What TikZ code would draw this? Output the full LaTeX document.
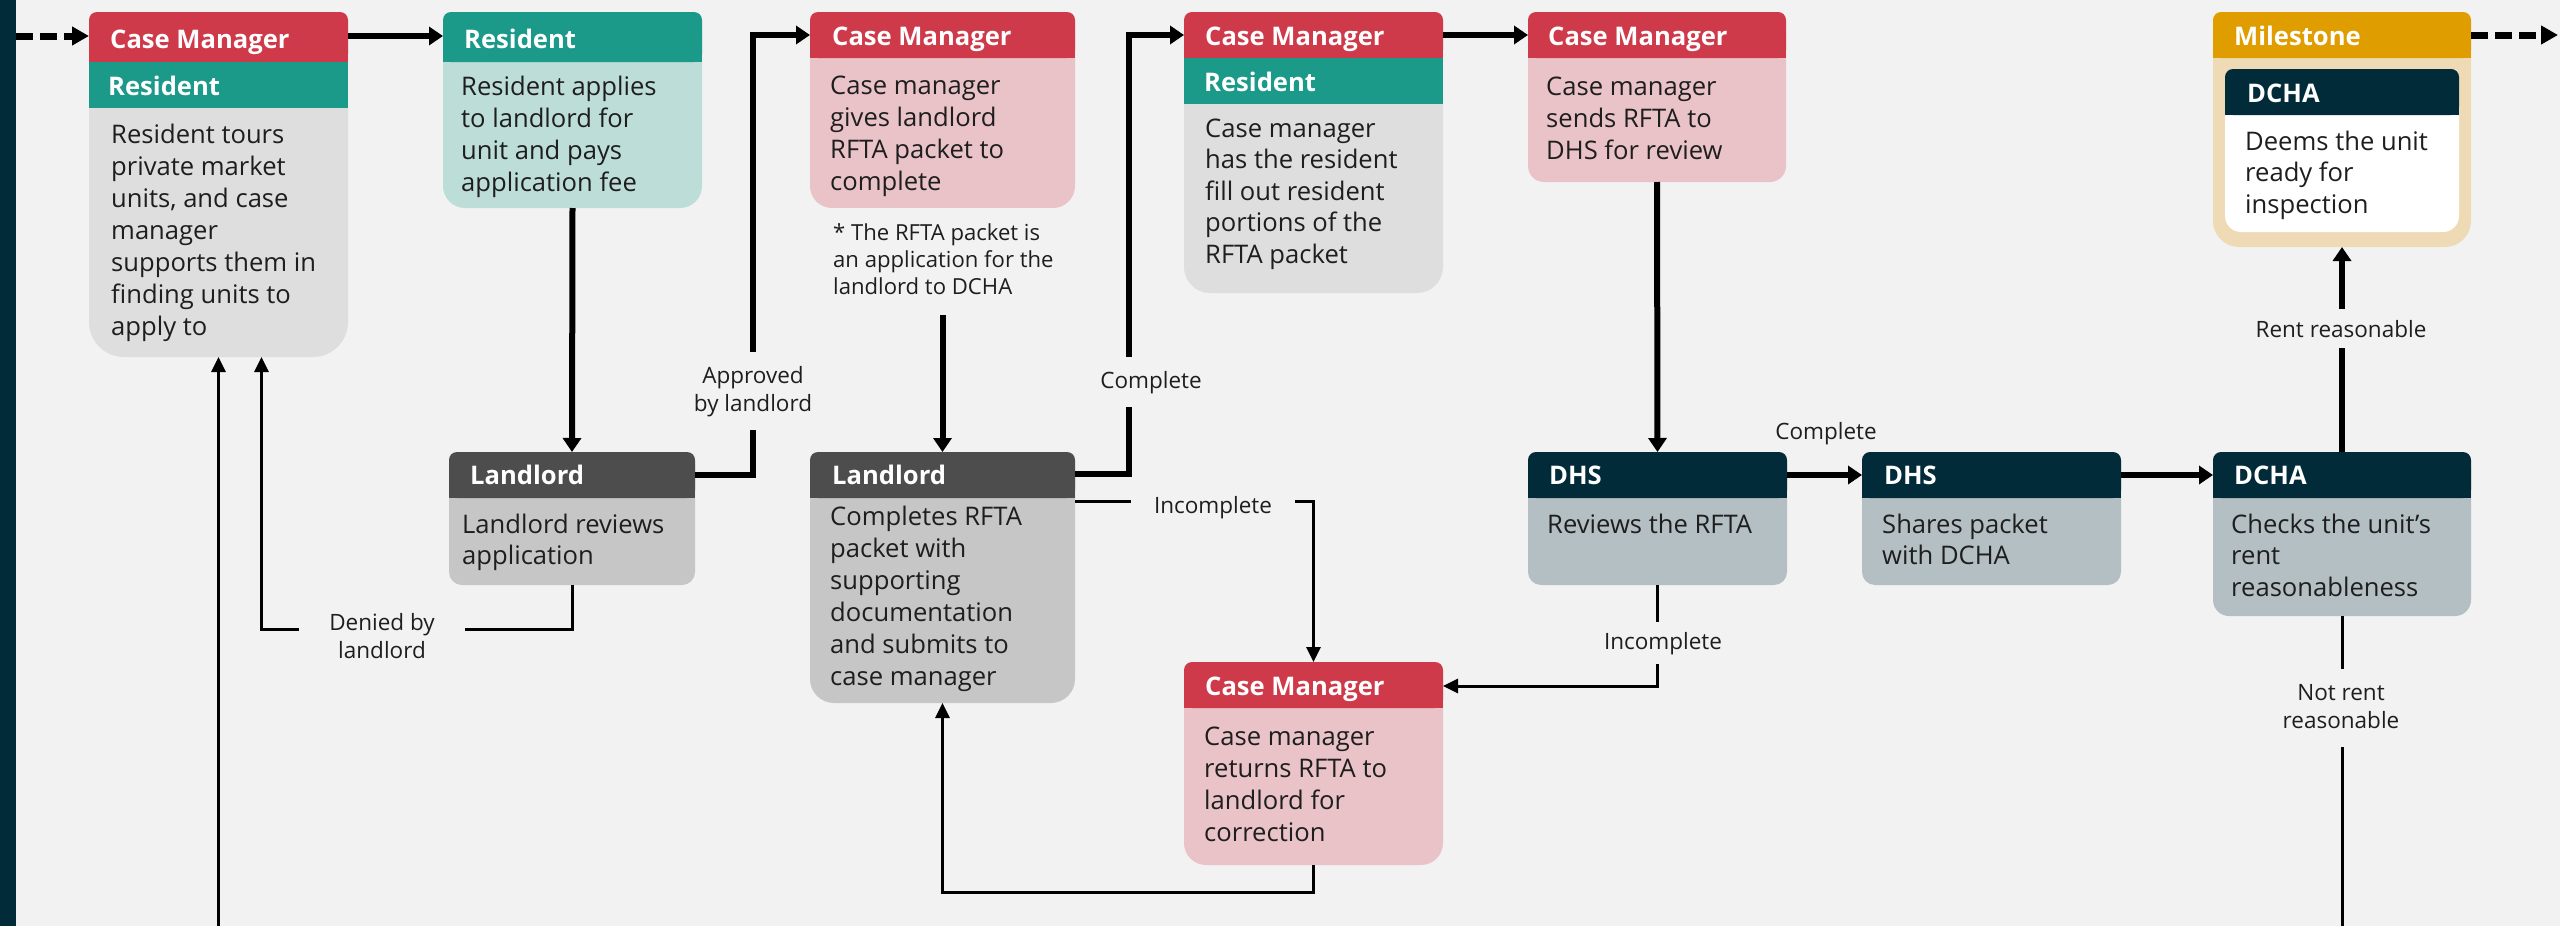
\documentclass[tikz,border=0pt]{standalone}
\usepackage{fontspec}
\setmainfont{Open Sans}
\usetikzlibrary{arrows.meta}
\definecolor{bg}{HTML}{F2F2F2}
\definecolor{navy}{HTML}{022B3A}
\definecolor{cmred}{HTML}{CF3A4B}
\definecolor{cmpink}{HTML}{E9C3C8}
\definecolor{rteal}{HTML}{1B9A8A}
\definecolor{rtealL}{HTML}{BDDDD8}
\definecolor{greyB}{HTML}{DEDEDE}
\definecolor{llord}{HTML}{4D4D4D}
\definecolor{llordL}{HTML}{C6C6C6}
\definecolor{dhsL}{HTML}{B4BFC3}
\definecolor{gold}{HTML}{E09D00}
\definecolor{tan}{HTML}{EEDBB5}
\definecolor{ink}{HTML}{1E1E1E}
\newcommand{\txtL}[1]{\begin{tabular}[t]{@{}l@{}}#1\end{tabular}}
\newcommand{\txtC}[1]{\begin{tabular}[t]{@{}c@{}}#1\end{tabular}}
\newcommand{\mkcard}[7]{%
  \fill[#6, rounded corners=#7pt] (#2,#3) rectangle ++(#4,#5);
  \node[anchor=north west, minimum width=#4pt, minimum height=#5pt, inner sep=0pt, outer sep=0pt] (#1) at (#2,#3) {};
}
\newcommand{\mkhead}[5]{%
  \fill[#5, rounded corners=8pt] (#1,#2) rectangle ++(#3,#4);
  \fill[#5] (#1,#2+10) rectangle ++(#3,#4-10);
}
\newcommand{\mkband}[5]{\fill[#5] (#1,#2) rectangle ++(#3,#4);}
\tikzset{
  hdr/.style={anchor=base west, inner sep=0pt, text=white, font=\fontsize{25.6}{32}\selectfont\bfseries},
  bodytxt/.style={anchor=base west, inner sep=0pt, text=ink, font=\fontsize{25.6}{32}\selectfont},
  bodytxtB/.style={bodytxt, font=\fontsize{25.6}{31.5}\selectfont},
  notetxt/.style={anchor=base west, inner sep=0pt, text=ink, font=\fontsize{22.1}{27}\selectfont},
  lbl/.style={anchor=base, inner sep=0pt, text=ink, fill=bg, font=\fontsize{22.5}{28}\selectfont},
  thickarr/.style={line width=6pt, -{Triangle[length=14pt,width=18pt]}},
  thinarr/.style={line width=3pt, -{Triangle[length=15pt,width=14pt]}},
  thinln/.style={line width=3pt},
  dasharr/.style={line width=7pt, dash pattern=on 17pt off 7pt, -{Triangle[length=17pt,width=18pt]}},
}
\begin{document}
\begin{tikzpicture}[x=1pt, y=-1pt]
\useasboundingbox (0,0) rectangle (2560,926);
\fill[bg] (0,0) rectangle (2560,926);
\node[fill=navy, anchor=north west, minimum width=16pt, minimum height=926pt, inner sep=0pt, outer sep=0pt] (lbar) at (0,0) {};

% ---- cards ----
% b1
\mkcard{b1}{89}{12}{259}{345}{greyB}{35}
\mkhead{89}{12}{259}{50}{cmred}
\mkband{89}{62}{259}{46}{rteal}
\node[hdr] (b1h) at (110,48) {Case Manager};
\node[hdr] (b1r) at (108,95) {Resident};
\node[bodytxt] (b1t) at (111,143) {\txtL{Resident tours\\private market\\units, and case\\manager\\supports them in\\finding units to\\apply to}};
% b2
\mkcard{b2}{443}{12}{259}{196}{rtealL}{22}
\mkhead{443}{12}{259}{50}{rteal}
\node[hdr] (b2h) at (464,48) {Resident};
\node[bodytxt] (b2t) at (461,95) {\txtL{Resident applies\\to landlord for\\unit and pays\\application fee}};
% b3
\mkcard{b3}{810}{12}{265}{196}{cmpink}{22}
\mkhead{810}{12}{265}{46}{cmred}
\node[hdr] (b3h) at (832,45) {Case Manager};
\node[bodytxt] (b3t) at (830,94) {\txtL{Case manager\\gives landlord\\RFTA packet to\\complete}};
% b4
\mkcard{b4}{1184}{12}{259}{281}{greyB}{26}
\mkhead{1184}{12}{259}{46}{cmred}
\mkband{1184}{58}{259}{46}{rteal}
\node[hdr] (b4h) at (1205,45) {Case Manager};
\node[hdr] (b4r) at (1204,91) {Resident};
\node[bodytxtB] (b4t) at (1205,137) {\txtL{Case manager\\has the resident\\fill out resident\\portions of the\\RFTA packet}};
% b5
\mkcard{b5}{1528}{12}{258}{170}{cmpink}{16}
\mkhead{1528}{12}{258}{46}{cmred}
\node[hdr] (b5h) at (1548,45) {Case Manager};
\node[bodytxt] (b5t) at (1546,95) {\txtL{Case manager\\sends RFTA to\\DHS for review}};
% milestone
\mkcard{ms}{2213}{12}{258}{235}{tan}{26}
\mkhead{2213}{12}{258}{46}{gold}
\node[hdr] (msh) at (2234,45) {Milestone};
\mkcard{msi}{2225}{69}{234}{163}{white}{16}
\mkhead{2225}{69}{234}{46}{navy}
\node[hdr] (msih) at (2247,102) {DCHA};
\node[bodytxtB] (msit) at (2245,150) {\txtL{Deems the unit\\ready for\\inspection}};
% l1
\mkcard{l1}{449}{452}{246}{133}{llordL}{13}
\mkhead{449}{452}{246}{46}{llord}
\node[hdr] (l1h) at (470,484.5) {Landlord};
\node[bodytxtB] (l1t) at (462,533) {\txtL{Landlord reviews\\application}};
% l2
\mkcard{l2}{810}{452}{265}{251}{llordL}{24}
\mkhead{810}{452}{265}{46}{llord}
\node[hdr] (l2h) at (832,484.5) {Landlord};
\node[bodytxt] (l2t) at (830,525.5) {\txtL{Completes RFTA\\packet with\\supporting\\documentation\\and submits to\\case manager}};
% cmr
\mkcard{cmr}{1184}{662}{259}{203}{cmpink}{22}
\mkhead{1184}{662}{259}{46}{cmred}
\node[hdr] (cmrh) at (1205,695) {Case Manager};
\node[bodytxt] (cmrt) at (1204,745.5) {\txtL{Case manager\\returns RFTA to\\landlord for\\correction}};
% d1
\mkcard{d1}{1528}{452}{259}{133}{dhsL}{13}
\mkhead{1528}{452}{259}{46}{navy}
\node[hdr] (d1h) at (1549,484.5) {DHS};
\node[bodytxt] (d1t) at (1547,533) {\txtL{Reviews the RFTA}};
% d2
\mkcard{d2}{1862}{452}{259}{133}{dhsL}{13}
\mkhead{1862}{452}{259}{46}{navy}
\node[hdr] (d2h) at (1884,484.5) {DHS};
\node[bodytxtB] (d2t) at (1882,533) {\txtL{Shares packet\\with DCHA}};
% dc
\mkcard{dc}{2213}{452}{258}{164}{dhsL}{16}
\mkhead{2213}{452}{258}{46}{navy}
\node[hdr] (dch) at (2234,484.5) {DCHA};
\node[bodytxtB] (dct) at (2231,533) {\txtL{Checks the unit’s\\rent\\reasonableness}};

% ---- helper coordinates ----
\coordinate (j1) at (753,0);
\coordinate (j2) at (1129,0);
\coordinate (j3) at (0,892);
\coordinate (j4) at (0,629);
\coordinate (j5) at (0,686);
\coordinate (b1s2) at ([xshift=43pt]b1.south);
\coordinate (exit) at (2558,35);

% ---- connectors ----
\draw[dasharr] (lbar.east |- 0,36) -- (b1.west |- 0,36);
\draw[thickarr] (b1.east |- 0,36) -- (b2.west |- 0,36);
\draw[thickarr] (b2.south) -- (l1.north);
\draw[thickarr] (l1.east |- 0,475) -| (j1 |- 0,35) -- (b3.west |- 0,35);
\draw[thinarr] (l1.south) |- (j4 -| b1s2) -- (b1s2);
\draw[thinarr] (b1.south |- 0,926) -- (b1.south);
\draw[thickarr] (b3.south) -- (l2.north);
\draw[thickarr] (l2.east |- 0,474) -| (j2 |- 0,35) -- (b4.west |- 0,35);
\draw[thinarr] (l2.east |- 0,501) -| (cmr.north);
\draw[thinarr] (cmr.south) |- (j3 -| l2.south) -- (l2.south);
\draw[thickarr] (b4.east |- 0,35) -- (b5.west |- 0,35);
\draw[thickarr] (b5.south) -- (d1.north);
\draw[thickarr] (d1.east |- 0,475) -- (d2.west |- 0,475);
\draw[thickarr] (d2.east |- 0,475) -- (dc.west |- 0,475);
\draw[thinarr] (d1.south) |- (cmr.east |- j5);
\draw[thickarr] (dc.north) -- (ms.south);
\draw[thinln] (dc.south) -- (dc.south |- 0,926);
\draw[dasharr] (ms.east |- exit) -- (exit);

% ---- labels (masking the connector lines) ----
\node[notetxt, fill=bg, inner ysep=13pt, inner xsep=2pt] (fn) at (831,240) {\txtL{* The RFTA packet is\\an application for the\\landlord to DCHA}};
\node[lbl, inner xsep=4pt, inner ysep=11pt] (lapp) at (753,383) {\txtC{Approved\\by landlord}};
\node[lbl, inner xsep=30pt, inner ysep=2pt] (lden) at (382,630) {\txtC{Denied by\\landlord}};
\node[lbl, inner xsep=4pt, inner ysep=14pt] (lcmp) at (1151,388) {Complete};
\node[lbl, inner xsep=23pt, inner ysep=2pt] (linc) at (1213,513) {Incomplete};
\node[lbl, inner sep=2pt] (lcmp2) at (1826,439) {Complete};
\node[lbl, inner xsep=4pt, inner ysep=10pt] (linc2) at (1663,649) {Incomplete};
\node[lbl, inner xsep=4pt, inner ysep=11pt] (lrr) at (2341,337) {Rent reasonable};
\node[lbl, inner xsep=4pt, inner ysep=11pt] (lnrr) at (2341,700) {\txtC{Not rent\\reasonable}};
\end{tikzpicture}
\end{document}
